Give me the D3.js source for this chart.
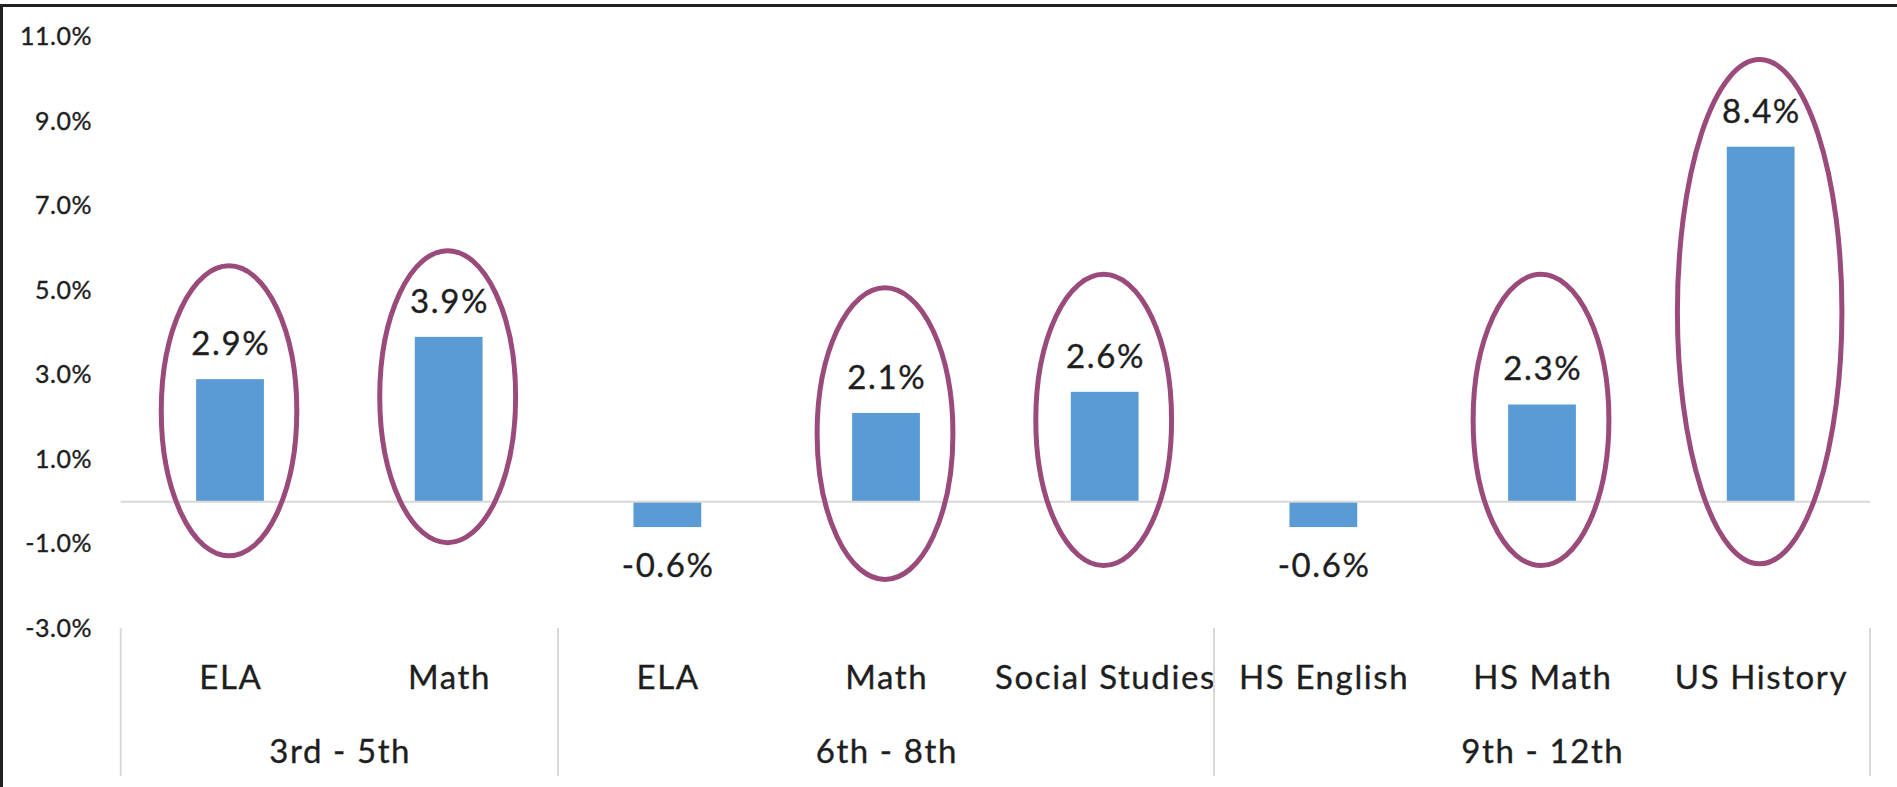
<!DOCTYPE html>
<html>
<head>
<meta charset="utf-8">
<script src="https://cdn.jsdelivr.net/npm/d3@7"></script>
<style>
  html, body { margin: 0; padding: 0; background: #ffffff; }
  svg { display: block; }
  text { font-family: Lato, "Open Sans", sans-serif; fill: #1e1e1e; stroke: #1e1e1e; stroke-width: 0.35px; }
</style>
</head>
<body>
<svg id="chart" width="1897" height="787"></svg>
<script>
// ---- data ----
const categories = ["ELA", "Math", "ELA", "Math", "Social Studies", "HS English", "HS Math", "US History"];
const groups = ["3rd - 5th", "6th - 8th", "9th - 12th"];
const groupSizes = [2, 3, 3];
const values = [2.9, 3.9, -0.6, 2.1, 2.6, -0.6, 2.3, 8.4];
const yTicks = [-3, -1, 1, 3, 5, 7, 9, 11];
// hand-drawn highlight ellipses (category index, top and bottom in % units)
const circledIndex = [0, 1, 3, 4, 6, 7];
const circleTop = [5.58, 5.94, 5.06, 5.38, 5.38, 10.46];
const circleBottom = [-1.28, -0.97, -1.84, -1.51, -1.51, -1.47];

// ---- layout ----
const W = 1897, H = 787;
const plotLeft = 120.7, plotRight = 1870;
const fmt = v => v.toFixed(1) + "%";
const LS = 1.6; // letter spacing for large labels

const svg = d3.select("#chart");

const x = d3.scaleBand()
  .domain(d3.range(categories.length))
  .range([plotLeft, plotRight])
  .paddingInner(0.69)
  .paddingOuter(0.345);

const y = d3.scaleLinear().domain([-3, 11]).range([628.5, 36.8]);

// frame (left + top border)
svg.append("path")
  .attr("d", `M1.5,${H} V5.5 H${W}`)
  .attr("fill", "none")
  .attr("stroke", "#222")
  .attr("stroke-width", 3);

// y axis labels
const yAxis = d3.axisLeft(y).tickValues(yTicks).tickFormat(fmt).tickSize(0).tickPadding(0);
const gy = svg.append("g").attr("transform", "translate(92,0)").call(yAxis);
gy.select(".domain").remove();
gy.selectAll("text")
  .attr("font-family", "Lato, 'Open Sans', sans-serif")
  .attr("font-size", 25)
  .attr("letter-spacing", 0.5)
  .attr("fill", "#1e1e1e");

// bars
svg.append("g").selectAll("rect")
  .data(values)
  .join("rect")
  .attr("x", (d, i) => x(i))
  .attr("width", x.bandwidth())
  .attr("y", d => y(Math.max(0, d)))
  .attr("height", d => Math.abs(y(d) - y(0)))
  .attr("fill", "#5B9BD5");

// zero line
svg.append("line")
  .attr("x1", plotLeft).attr("x2", plotRight)
  .attr("y1", y(0)).attr("y2", y(0))
  .attr("stroke", "#D9D9D9").attr("stroke-width", 2);

// data labels
svg.append("g").selectAll("text")
  .data(values)
  .join("text")
  .attr("x", (d, i) => x(i) + x.bandwidth() / 2 + LS / 2)
  .attr("y", d => d >= 0 ? y(d) - 24 : y(d) + 50)
  .attr("text-anchor", "middle")
  .attr("font-size", 33)
  .attr("letter-spacing", LS)
  .text(fmt);

// highlight ellipses
const ellData = circledIndex.map((ci, k) => ({ci, top: circleTop[k], bottom: circleBottom[k]}));
const ryOf = d => (y(d.bottom) - y(d.top)) / 2;
const ryMin = d3.min(ellData, ryOf);
svg.append("g").selectAll("ellipse")
  .data(ellData)
  .join("ellipse")
  .attr("cx", d => x(d.ci) + x.bandwidth() / 2 - 1)
  .attr("cy", d => (y(d.top) + y(d.bottom)) / 2)
  .attr("ry", ryOf)
  .attr("rx", d => x.step() * 0.31 * Math.pow(ryOf(d) / ryMin, 0.35))
  .attr("fill", "none")
  .attr("stroke", "#9A4A7B")
  .attr("stroke-width", 5);

// category labels
svg.append("g").selectAll("text")
  .data(categories)
  .join("text")
  .attr("x", (d, i) => x(i) + x.bandwidth() / 2 + LS / 2)
  .attr("y", 689)
  .attr("text-anchor", "middle")
  .attr("font-size", 33)
  .attr("letter-spacing", LS)
  .text(d => d);

// group separators and labels
const bounds = [0];
groupSizes.forEach(s => bounds.push(bounds[bounds.length - 1] + s));
const bx = k => plotLeft + k * x.step();
svg.append("g").selectAll("line")
  .data(bounds)
  .join("line")
  .attr("x1", bx).attr("x2", bx)
  .attr("y1", 628).attr("y2", 776)
  .attr("stroke", "#D9D9D9").attr("stroke-width", 2);

svg.append("g").selectAll("text")
  .data(groups)
  .join("text")
  .attr("x", (d, i) => (bx(bounds[i]) + bx(bounds[i + 1])) / 2 + LS / 2)
  .attr("y", 762.5)
  .attr("text-anchor", "middle")
  .attr("font-size", 33)
  .attr("letter-spacing", LS)
  .text(d => d);
</script>
</body>
</html>
